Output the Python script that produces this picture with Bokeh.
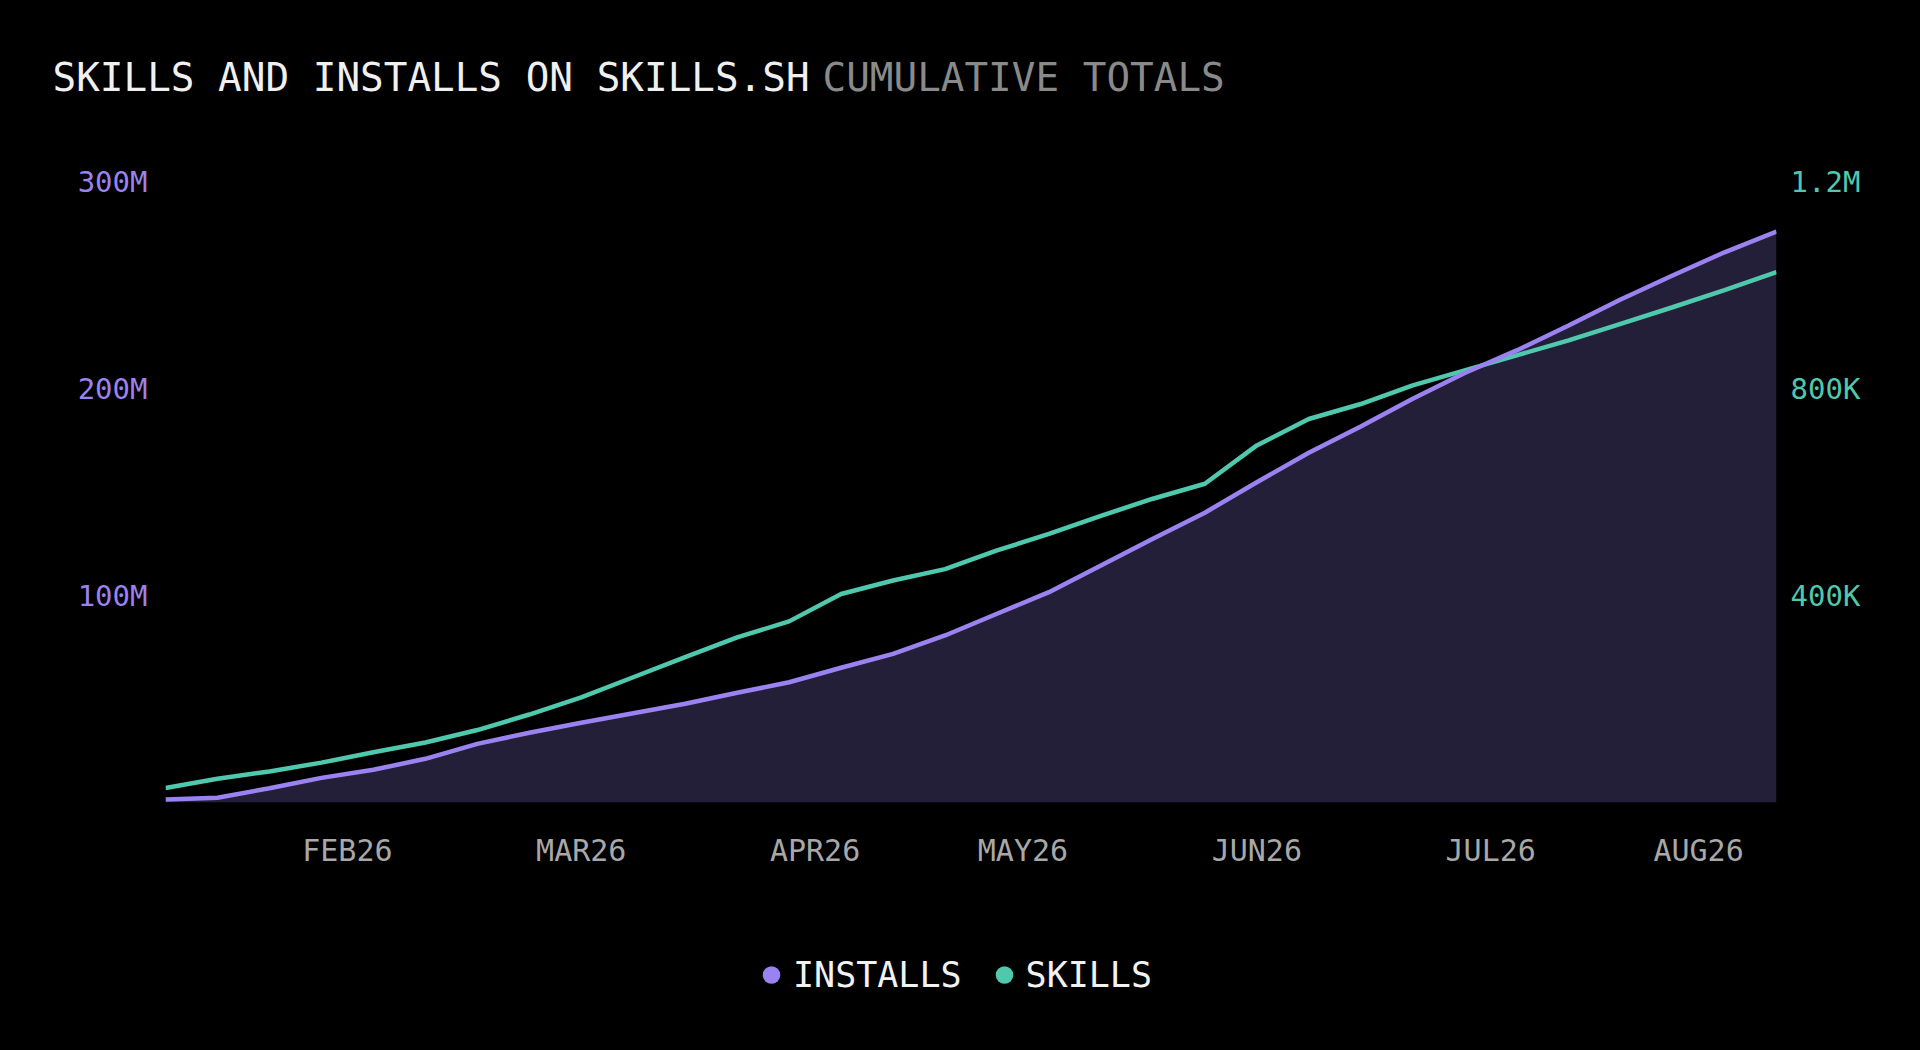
from bokeh.plotting import figure
from bokeh.layouts import column
from bokeh.models import (ColumnDataSource, Range1d, LinearAxis, FixedTicker,
                          Label, Legend, LegendItem)
from bokeh.embed import file_html
from bokeh.resources import INLINE

# ---- data (weekly cumulative totals) ----
week = list(range(32))
installs_m = [1.5, 2.3, 6.9, 11.9, 15.8, 21.1, 28.3, 33.7, 38.5, 43.1, 47.7, 53.0,
              58.1, 65.1, 71.8, 80.7, 91.2, 101.6, 114.5, 127.4, 140.0, 154.7, 169.0,
              181.6, 195.0, 207.5, 218.4, 230.4, 243.0, 254.6, 265.8, 275.8]
skills_k = [28, 46, 60, 77, 97, 116, 140, 170, 203, 242, 281, 319,
            350, 403, 429, 451, 487, 519, 554, 587, 616, 690, 741,
            770, 806, 835, 864, 893, 925, 957, 990, 1025]

month_ticks = [3.5, 8, 12.5, 16.5, 21, 25.5, 29.5]
month_labels = ["FEB26", "MAR26", "APR26", "MAY26", "JUN26", "JUL26", "AUG26"]
left_ticks = [100e6, 200e6, 300e6]
left_labels = ["100M", "200M", "300M"]
right_ticks = [400e3, 800e3, 1.2e6]
right_labels = ["400K", "800K", "1.2M"]

title_text = "SKILLS AND INSTALLS ON SKILLS.SH"
subtitle_text = "CUMULATIVE TOTALS"
series_names = ["INSTALLS", "SKILLS"]

# ---- style ----
FONT = "DejaVu Sans Mono"
BG = "#000000"
PURPLE = "#9a82f0"
TEAL = "#4fc8ae"
AREA = "#241f38"
W = 1920

src = ColumnDataSource(dict(
    x=week,
    installs=[v * 1e6 for v in installs_m],
    skills=[v * 1e3 for v in skills_k],
))

def blank_fig(h):
    f = figure(width=W, height=h, output_backend="svg", toolbar_location=None,
               x_range=Range1d(0, W), y_range=Range1d(0, h),
               x_axis_type=None, y_axis_type=None,
               min_border=0, background_fill_color=BG, border_fill_color=BG)
    f.outline_line_color = None
    f.grid.visible = False
    f.frame_align = False
    return f

# ---- title strip ----
tf = blank_fig(128)
tf.add_layout(Label(x=52, y=51, x_units="screen", y_units="screen",
                    text=title_text, text_font=FONT, text_font_size="39.3px",
                    text_color="#f0f0f0", text_baseline="alphabetic"))
tf.add_layout(Label(x=822, y=51, x_units="screen", y_units="screen",
                    text=subtitle_text, text_font=FONT, text_font_size="39.3px",
                    text_color="#8a8a8a", text_baseline="alphabetic"))

# ---- main chart ----
p = figure(width=W, height=752, output_backend="svg", toolbar_location=None,
           x_range=Range1d(0, 31), y_range=Range1d(0, 300e6),
           min_border_left=165, min_border_right=144,
           min_border_top=53, min_border_bottom=78,
           background_fill_color=BG, border_fill_color=BG)
p.outline_line_color = None
p.grid.visible = False
p.extra_y_ranges = {"skills": Range1d(0, 1.2e6)}

p.varea(x="x", y1=0, y2="installs", source=src, fill_color=AREA)
p.line(x="x", y="skills", source=src, y_range_name="skills",
       line_color=TEAL, line_width=4.5)
p.line(x="x", y="installs", source=src, line_color=PURPLE, line_width=4.5)

def style_axis(ax, color, size):
    ax.axis_line_color = None
    ax.major_tick_line_color = None
    ax.minor_tick_line_color = None
    ax.major_label_text_font = FONT
    ax.major_label_text_font_size = size
    ax.major_label_text_color = color

xa = p.xaxis[0]
xa.ticker = FixedTicker(ticks=month_ticks)
xa.major_label_overrides = {t: l for t, l in zip(month_ticks, month_labels)}
style_axis(xa, "#a8a8a8", "30px")
xa.major_label_standoff = 24

ya = p.yaxis[0]
ya.ticker = FixedTicker(ticks=left_ticks)
ya.major_label_overrides = {t: l for t, l in zip(left_ticks, left_labels)}
style_axis(ya, PURPLE, "29px")
ya.major_label_standoff = 12

ra = LinearAxis(y_range_name="skills", ticker=FixedTicker(ticks=right_ticks))
ra.major_label_overrides = {t: l for t, l in zip(right_ticks, right_labels)}
style_axis(ra, TEAL, "29px")
ra.major_label_standoff = 8
p.add_layout(ra, "right")

# ---- legend strip ----
lf = blank_fig(170)
d1 = lf.scatter(x="x", y="installs", source=src, size=0, marker="circle",
                fill_color=PURPLE, line_color=None)
d2 = lf.scatter(x="x", y="skills", source=src, size=0, marker="circle",
                fill_color=TEAL, line_color=None)
legend = Legend(items=[LegendItem(label=series_names[0], renderers=[d1]),
                       LegendItem(label=series_names[1], renderers=[d2])],
                location=(749, 52), orientation="horizontal",
                background_fill_alpha=0, border_line_color=None,
                label_text_font=FONT, label_text_font_size="35px",
                label_text_color="#f2f2f2", glyph_width=44, glyph_height=47,
                label_standoff=0, spacing=20, padding=0, margin=0)
lf.add_layout(legend, "center")

layout = column(tf, p, lf, spacing=0)

html = file_html(layout, INLINE)
html = html.replace("</head>",
                    "<style>html, body { background: #000000; }</style></head>", 1)
open("out.html", "w").write(html)
